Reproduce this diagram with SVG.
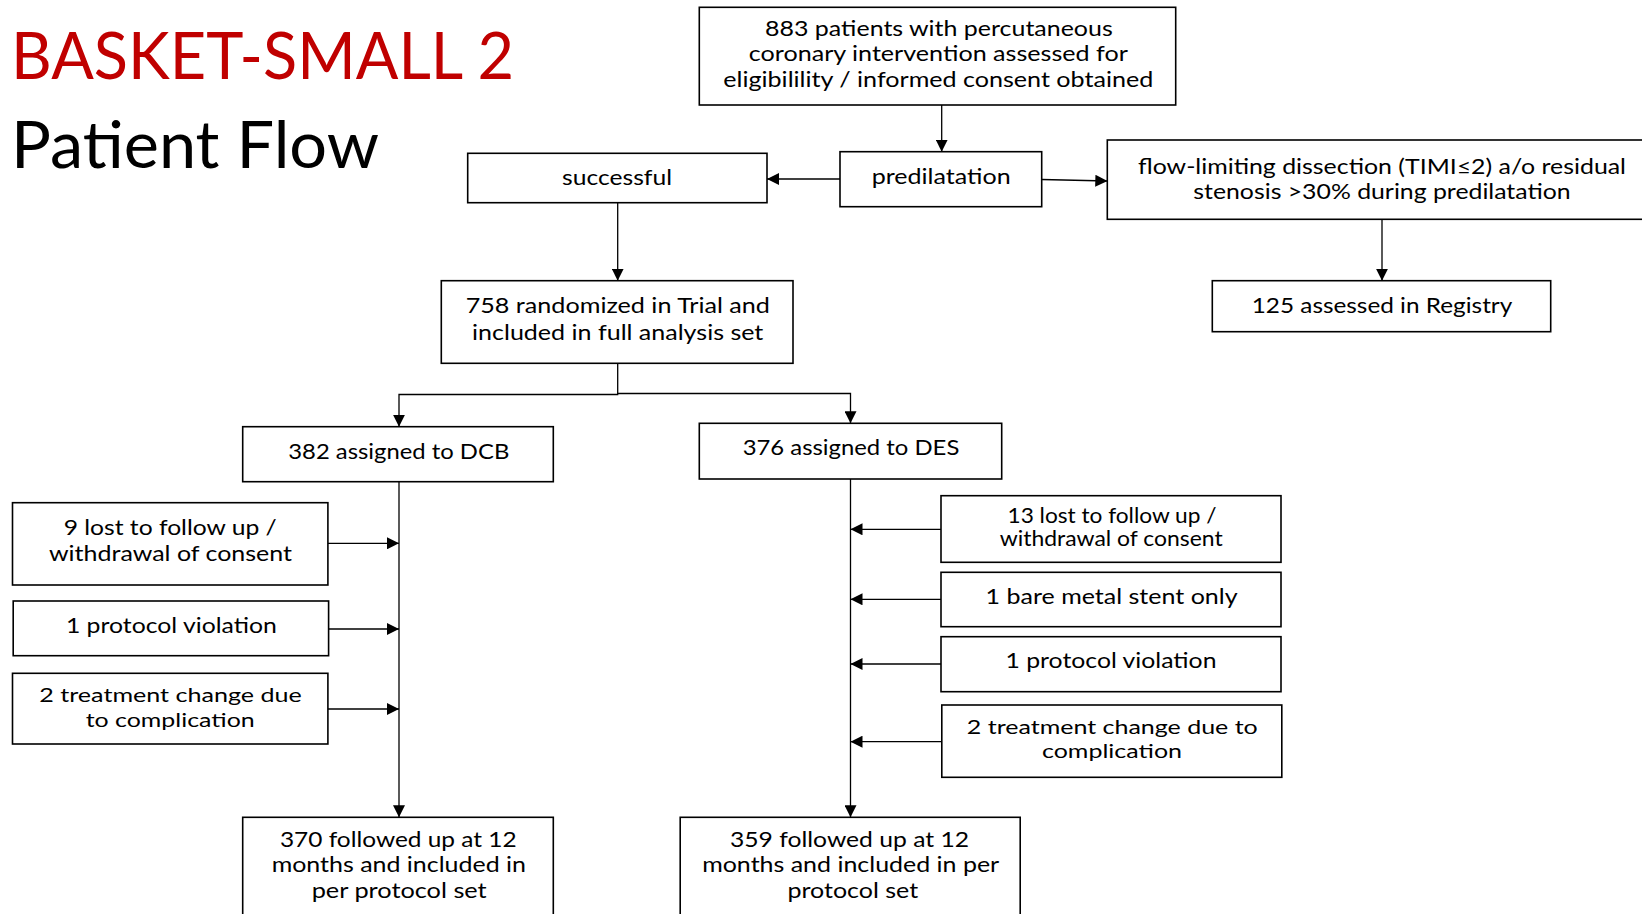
<svg xmlns="http://www.w3.org/2000/svg" width="1642" height="914" viewBox="0 0 1642 914">
<style>
.box{fill:#fff;stroke:#000;stroke-width:1.6}
.t{font-family:Lato,"Open Sans","Liberation Sans",sans-serif;font-size:22px;fill:#000;text-anchor:middle}
.s{font-size:20.5px}
.u{font-size:19.5px}
.c{fill:none;stroke:#000;stroke-width:1.3}
.title{font-family:Lato,"Open Sans","Liberation Sans",sans-serif;font-size:65px}
</style>
<defs>
<marker id="ah" markerWidth="12" markerHeight="12" refX="12" refY="6" orient="auto" markerUnits="userSpaceOnUse">
<path d="M0,0 L12,6 L0,12 z" fill="#000"/>
</marker>
</defs>
<rect width="1642" height="914" fill="#fff"/>
<g id="title">
<text class="title" x="11" y="79" fill="#C00000" textLength="503" lengthAdjust="spacingAndGlyphs">BASKET-SMALL 2</text>
<text class="title" x="11" y="168.3" fill="#000" textLength="368" lengthAdjust="spacingAndGlyphs">Patient Flow</text>
</g>
<g id="connectors">
<line class="c" x1="941.7" y1="105" x2="941.7" y2="151.7" marker-end="url(#ah)"/>
<line class="c" x1="840" y1="179" x2="767" y2="179" marker-end="url(#ah)"/>
<line class="c" x1="1041.7" y1="179.5" x2="1107.3" y2="181" marker-end="url(#ah)"/>
<line class="c" x1="1382" y1="219.3" x2="1382" y2="280.7" marker-end="url(#ah)"/>
<line class="c" x1="617.7" y1="202.7" x2="617.7" y2="280.7" marker-end="url(#ah)"/>
<polyline class="c" points="617.7,363.3 617.7,394.5 399,394.5 399,426.7" marker-end="url(#ah)"/>
<polyline class="c" points="617.7,393.5 850.5,393.5 850.5,423.3" marker-end="url(#ah)"/>
<line class="c" x1="399" y1="481.7" x2="399" y2="817.3" marker-end="url(#ah)"/>
<line class="c" x1="850.5" y1="479" x2="850.5" y2="817.3" marker-end="url(#ah)"/>
<line class="c" x1="327.9" y1="543.3" x2="399" y2="543.3" marker-end="url(#ah)"/>
<line class="c" x1="328.6" y1="629" x2="399" y2="629" marker-end="url(#ah)"/>
<line class="c" x1="327.9" y1="709" x2="399" y2="709" marker-end="url(#ah)"/>
<line class="c" x1="941" y1="529.3" x2="850.5" y2="529.3" marker-end="url(#ah)"/>
<line class="c" x1="941" y1="599.3" x2="850.5" y2="599.3" marker-end="url(#ah)"/>
<line class="c" x1="941" y1="664" x2="850.5" y2="664" marker-end="url(#ah)"/>
<line class="c" x1="941.8" y1="741.7" x2="850.5" y2="741.7" marker-end="url(#ah)"/>
</g>
<g id="n-assessed">
<rect class="box" x="699.3" y="7.3" width="476.4" height="97.7"/>
<text class="t s" x="938.9" y="35.5" textLength="347.7" lengthAdjust="spacingAndGlyphs">883 patients with percutaneous</text>
<text class="t s" x="938.3" y="61" textLength="379" lengthAdjust="spacingAndGlyphs">coronary intervention assessed for</text>
<text class="t s" x="938.3" y="87" textLength="430" lengthAdjust="spacingAndGlyphs">eligibilility / informed consent obtained</text>
</g>
<g id="n-predilatation">
<rect class="box" x="840" y="151.7" width="201.7" height="55"/>
<text class="t" x="941.2" y="184.3" textLength="139" lengthAdjust="spacingAndGlyphs">predilatation</text>
</g>
<g id="n-successful">
<rect class="box" x="467.7" y="153.3" width="299.3" height="49.4"/>
<text class="t" x="617" y="185" textLength="110" lengthAdjust="spacingAndGlyphs">successful</text>
</g>
<g id="n-flowlimiting">
<rect class="box" x="1107.3" y="140" width="560" height="79.3"/>
<text class="t" x="1382" y="173.5" textLength="488" lengthAdjust="spacingAndGlyphs">flow-limiting dissection (TIMI≤2) a/o residual</text>
<text class="t" x="1382" y="199" textLength="377.3" lengthAdjust="spacingAndGlyphs">stenosis &gt;30% during predilatation</text>
</g>
<g id="n-registry">
<rect class="box" x="1212.3" y="280.7" width="338.4" height="51"/>
<text class="t" x="1382" y="313.3" textLength="260.6" lengthAdjust="spacingAndGlyphs">125 assessed in Registry</text>
</g>
<g id="n-randomized">
<rect class="box" x="441.3" y="280.7" width="351.7" height="82.6"/>
<text class="t" x="617.8" y="312.7" textLength="304.3" lengthAdjust="spacingAndGlyphs">758 randomized in Trial and</text>
<text class="t" x="617.7" y="340" textLength="291.3" lengthAdjust="spacingAndGlyphs">included in full analysis set</text>
</g>
<g id="n-dcb">
<rect class="box" x="242.7" y="426.7" width="310.6" height="55"/>
<text class="t" x="398.8" y="459.3" textLength="221" lengthAdjust="spacingAndGlyphs">382 assigned to DCB</text>
</g>
<g id="n-des">
<rect class="box" x="699.3" y="423.3" width="302.4" height="55.7"/>
<text class="t" x="851" y="455" textLength="216.7" lengthAdjust="spacingAndGlyphs">376 assigned to DES</text>
</g>
<g id="n-dcb-lost">
<rect class="box" x="12.5" y="502.7" width="315.4" height="82.3"/>
<text class="t" x="170.2" y="535" textLength="213" lengthAdjust="spacingAndGlyphs">9 lost to follow up /</text>
<text class="t" x="170.5" y="561" textLength="243" lengthAdjust="spacingAndGlyphs">withdrawal of consent</text>
</g>
<g id="n-dcb-protocol">
<rect class="box" x="13.2" y="601" width="315.4" height="54.7"/>
<text class="t" x="171.4" y="632.7" textLength="211" lengthAdjust="spacingAndGlyphs">1 protocol violation</text>
</g>
<g id="n-dcb-treatment">
<rect class="box" x="12.5" y="673.3" width="315.4" height="70.7"/>
<text class="t u" x="170.5" y="702.3" textLength="262.5" lengthAdjust="spacingAndGlyphs">2 treatment change due</text>
<text class="t u" x="170.2" y="726.5" textLength="169" lengthAdjust="spacingAndGlyphs">to complication</text>
</g>
<g id="n-des-lost">
<rect class="box" x="941" y="495.7" width="340" height="66.6"/>
<text class="t s" x="1112" y="523.3" textLength="209" lengthAdjust="spacingAndGlyphs">13 lost to follow up /</text>
<text class="t s" x="1111.2" y="545.7" textLength="223" lengthAdjust="spacingAndGlyphs">withdrawal of consent</text>
</g>
<g id="n-des-bms">
<rect class="box" x="941" y="572.3" width="340" height="54.4"/>
<text class="t" x="1111.6" y="604" textLength="252" lengthAdjust="spacingAndGlyphs">1 bare metal stent only</text>
</g>
<g id="n-des-protocol">
<rect class="box" x="941" y="636.7" width="340" height="55"/>
<text class="t" x="1111" y="668.3" textLength="211" lengthAdjust="spacingAndGlyphs">1 protocol violation</text>
</g>
<g id="n-des-treatment">
<rect class="box" x="941.8" y="705" width="340" height="72.3"/>
<text class="t u" x="1112.3" y="734" textLength="291" lengthAdjust="spacingAndGlyphs">2 treatment change due to</text>
<text class="t u" x="1112" y="758" textLength="140" lengthAdjust="spacingAndGlyphs">complication</text>
</g>
<g id="n-dcb-followup">
<rect class="box" x="242.7" y="817.3" width="310.6" height="120"/>
<text class="t" x="398.3" y="847.3" textLength="236.7" lengthAdjust="spacingAndGlyphs">370 followed up at 12</text>
<text class="t" x="398.8" y="871.7" textLength="254.3" lengthAdjust="spacingAndGlyphs">months and included in</text>
<text class="t" x="399.2" y="897.7" textLength="175" lengthAdjust="spacingAndGlyphs">per protocol set</text>
</g>
<g id="n-des-followup">
<rect class="box" x="680.2" y="817.3" width="340" height="120"/>
<text class="t" x="849.5" y="847.3" textLength="239" lengthAdjust="spacingAndGlyphs">359 followed up at 12</text>
<text class="t" x="850.7" y="871.7" textLength="297" lengthAdjust="spacingAndGlyphs">months and included in per</text>
<text class="t" x="852.8" y="897.7" textLength="130.7" lengthAdjust="spacingAndGlyphs">protocol set</text>
</g>
</svg>
